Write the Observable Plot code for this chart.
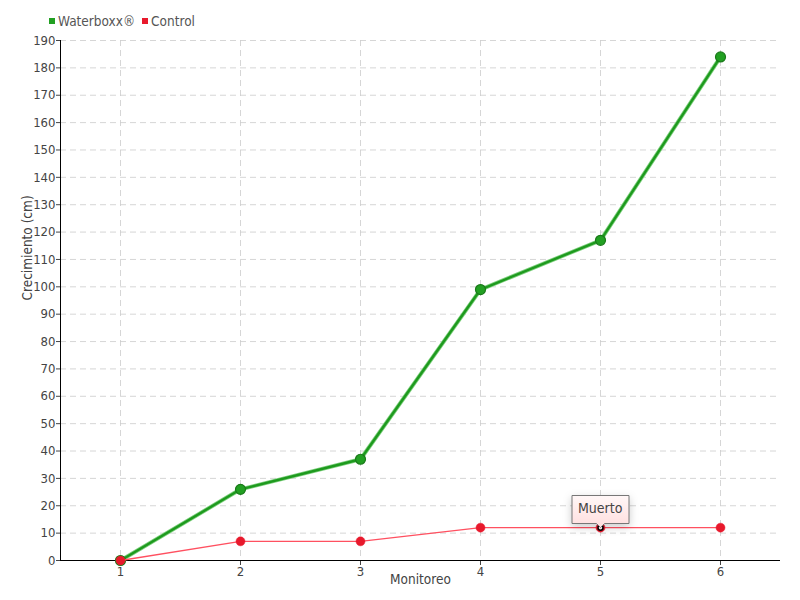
<!DOCTYPE html>
<html><head><meta charset="utf-8">
<script src="https://cdn.jsdelivr.net/npm/d3@7"></script>
<script src="https://cdn.jsdelivr.net/npm/@observablehq/plot@0.6"></script>
<style>
body{margin:0;background:#fff;}
#wrap{position:relative;width:800px;height:600px;font-family:"DejaVu Sans Condensed",sans-serif}
#legend{position:absolute;left:49px;top:13px;font-size:13.5px;color:#555;display:flex;align-items:center;white-space:nowrap}
#legend .sw{display:inline-block;width:6px;height:6px;margin-right:3px}
#legend .it{display:flex;align-items:center;margin-right:7px}
</style></head>
<body><div id="wrap"><div id="legend"></div></div>
<script>
const monitoreo = [1, 2, 3, 4, 5, 6];
const waterboxx = [0, 26, 37, 99, 117, 184];
const control = [0, 7, 7, 12, 12, 12];
const yTicks = d3.range(0, 191, 10);
const seriesNames = ["Waterboxx®", "Control"];
const seriesColors = ["#22a022", "#e8192c"];
const tipLabel = "Muerto";
const tipIndex = 4;

const wData = monitoreo.map((m, i) => ({m, v: waterboxx[i]}));
const cData = monitoreo.map((m, i) => ({m, v: control[i]}));
const tipData = [{m: monitoreo[tipIndex], v: control[tipIndex], label: tipLabel}];

const leg = document.getElementById("legend");
seriesNames.forEach((n, i) => {
  const it = document.createElement("span"); it.className = "it";
  it.innerHTML = `<span class="sw" style="background:${seriesColors[i]}"></span>${n}`;
  leg.appendChild(it);
});

function defs() {
  const ns = "http://www.w3.org/2000/svg";
  const d = document.createElementNS(ns, "defs");
  d.innerHTML = `<linearGradient id="tipgrad" x1="0" y1="0" x2="0" y2="1"><stop offset="0" stop-color="#fff7f7"/><stop offset="1" stop-color="#ffdede"/></linearGradient>`;
  return d;
}

const font = "DejaVu Sans Condensed, sans-serif";
const marks = [
  defs,
  Plot.gridY(yTicks, {stroke: "#ccc", strokeOpacity: 0.8, strokeDasharray: "6,4"}),
  Plot.gridX(monitoreo, {stroke: "#ccc", strokeOpacity: 0.8, strokeDasharray: "6,4"}),
  Plot.axisY(yTicks, {tickSize: 4, tickPadding: 1, label: null, fill: "#444", fontSize: 13, tickFormat: d => d}),
  Plot.axisX(monitoreo, {tickSize: 5, tickPadding: 1, label: null, fill: "#444", fontSize: 13, tickFormat: d => d}),
  Plot.ruleX([0.5], {stroke: "#000"}),
  Plot.ruleY([0], {stroke: "#000"}),
  Plot.text([ "Monitoreo" ], {frameAnchor: "bottom", dy: 23, text: d => d, fill: "#444", fontSize: 13.5}),
  Plot.text([ "Crecimiento (cm)" ], {frameAnchor: "left", dx: -33, rotate: -90, text: d => d, fill: "#444", fontSize: 13.5}),
  Plot.line(wData, {x: "m", y: "v", stroke: "#7fd07f", strokeWidth: 4}),
  Plot.line(wData, {x: "m", y: "v", stroke: "#1e9a1e", strokeWidth: 2.4}),
  Plot.dot(wData, {x: "m", y: "v", r: 5, fill: "#22a022", stroke: "#1a7a1a", strokeWidth: 1.2}),
  Plot.line(cData, {x: "m", y: "v", stroke: "#ff5060", strokeWidth: 1.3}),
  Plot.dot(cData, {x: "m", y: "v", r: 4.5, fill: "#e8192c", stroke: "#e8192c", strokeWidth: 0.5}),
  Plot.dot(tipData, {x: "m", y: "v", r: 2.5, fill: "#fff", stroke: "#000", strokeWidth: 1.5})
];
if (Plot.tip) {
  marks.push(Plot.tip(tipData, {x: "m", y: "v", title: "label", anchor: "bottom", fill: "url(#tipgrad)", stroke: "#777", fontSize: 14, textPadding: 6, pointerSize: 8, fontFamily: font, textColor: "#444"}));
}

const chart = Plot.plot({
  width: 800, height: 600,
  marginTop: 40, marginBottom: 40, marginLeft: 60, marginRight: 20,
  style: {fontFamily: font, fontSize: "13px", color: "#444", background: "transparent", overflow: "visible"},
  x: {domain: [0.5, 6.5], type: "linear"},
  y: {domain: [0, 190]},
  marks
});
document.getElementById("wrap").appendChild(chart);
</script></body></html>
